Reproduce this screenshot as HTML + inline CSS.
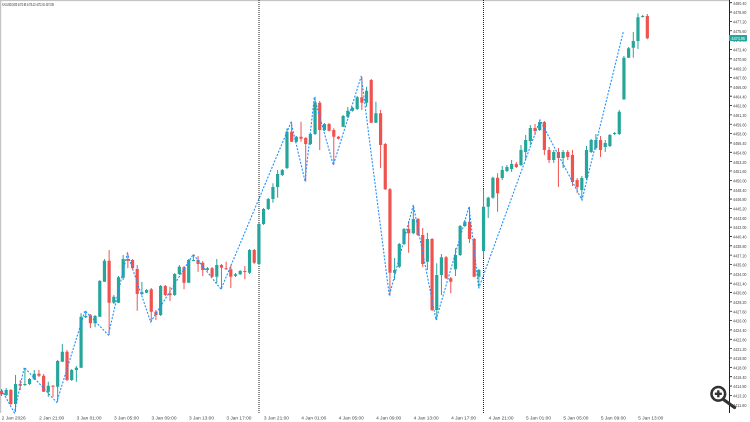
<!DOCTYPE html>
<html><head><meta charset="utf-8"><style>
html,body{margin:0;padding:0;background:#fff;}
svg{display:block;}
text{font-family:"Liberation Sans",sans-serif;}
</style></head><body>
<svg width="750" height="422" viewBox="0 0 750 422" xmlns="http://www.w3.org/2000/svg">
<rect x="0" y="0" width="750" height="422" fill="#fff"/>
<!-- frame -->
<line x1="0" y1="0.5" x2="729" y2="0.5" stroke="#c4c4c4" stroke-width="1.2"/>
<line x1="0.6" y1="0" x2="0.6" y2="413" stroke="#c4c4c4" stroke-width="1.2"/>
<text x="2" y="6" font-size="4.6" fill="#333" textLength="52" lengthAdjust="spacingAndGlyphs">XAUUSD,M30  4474.95 4476.10 4472.40 4474.95</text>
<!-- day separators -->
<line x1="259" y1="0" x2="259" y2="414" stroke="#222" stroke-width="1" stroke-dasharray="1,1"/>
<line x1="483.5" y1="0" x2="483.5" y2="414" stroke="#222" stroke-width="1" stroke-dasharray="1,1"/>

<!-- green wicks -->
<path fill="none" stroke="#26a69a" stroke-width="1" d="M6.18 388V396M15.54 375V412M24.9 368V386M29.58 378V385M34.26 370V380M48.3 381.7V396.7M57.66 360V402M62.34 344V362M71.7 369V381M76.38 366V381.7M81.06 313.3V368M85.74 310.7V318M95.1 315V327.3M99.78 280V317M104.46 259V282M113.82 295V304M118.5 276V303M123.18 255V280M141.9 282V295M146.58 289V293M160.62 285V316M174.66 273V296M179.34 265V275M188.7 259V283M193.38 254.3V261M207.42 267V271M216.78 259V283.3M235.5 273V277M240.18 270V275M249.54 249V274M258.9 223V265M263.58 208V225M268.26 198V210M272.94 183.3V202.7M277.62 170V197.7M282.3 169V176M286.98 128.3V169M296.34 136V142.5M310.38 133V145M315.06 96.7V135M324.42 123V131M343.14 115V127M347.82 107V118M352.5 107V111.5M357.18 96V110M366.54 86.7V106.7M375.9 101.7V123M394.62 258V280M399.3 243V268M403.98 228V245M413.34 205V234M427.38 232.7V270M436.74 263.3V320M441.42 254V295M455.46 248.3V276M460.14 225V256M464.82 220V227M478.86 269V288.3M483.54 189V258M488.22 196.7V218M492.9 176.7V198.7M502.26 166V180M506.94 165V172M511.62 160V172M520.98 145V166M525.66 135V160M530.34 125V145M539.7 120V131M553.74 150V163M563.1 150V168M581.82 176V200M586.5 146V180M591.18 139V153M595.86 134V150M605.22 140V152M609.9 134V147M614.58 132V135M619.26 110V135M623.94 56V100M628.62 47V58M633.3 32V57.7M637.98 13.3V49M642.66 15V17.5"/>
<!-- green bodies -->
<path fill="#26a69a" d="M4.58 390h3.2V395h-3.2zM13.94 384h3.2V404h-3.2zM23.3 384h3.2V385h-3.2zM27.98 379h3.2V384h-3.2zM32.66 373.7h3.2V379.3h-3.2zM46.7 385.7h3.2V391.7h-3.2zM56.06 361h3.2V386.7h-3.2zM60.74 351.7h3.2V361.7h-3.2zM70.1 370h3.2V380h-3.2zM74.78 367.7h3.2V370h-3.2zM79.46 316.7h3.2V367.7h-3.2zM84.14 316h3.2V317.3h-3.2zM93.5 316h3.2V323.3h-3.2zM98.18 281h3.2V316.7h-3.2zM102.86 260.7h3.2V281.7h-3.2zM112.22 296.7h3.2V302.7h-3.2zM116.9 277.3h3.2V302.7h-3.2zM121.58 259h3.2V277.7h-3.2zM140.3 292.3h3.2V294h-3.2zM144.98 290h3.2V292.7h-3.2zM159.02 286h3.2V315h-3.2zM173.06 274h3.2V295h-3.2zM177.74 266.7h3.2V274h-3.2zM187.1 260h3.2V282.7h-3.2zM191.78 260h3.2V261h-3.2zM205.82 268.3h3.2V270h-3.2zM215.18 265h3.2V276.7h-3.2zM233.9 274.3h3.2V276h-3.2zM238.58 271h3.2V274.3h-3.2zM247.94 250h3.2V272.7h-3.2zM257.3 224h3.2V264h-3.2zM261.98 209h3.2V224h-3.2zM266.66 199h3.2V209h-3.2zM271.34 187h3.2V199h-3.2zM276.02 174h3.2V187h-3.2zM280.7 170h3.2V175h-3.2zM285.38 131.7h3.2V168h-3.2zM294.74 136.7h3.2V141.7h-3.2zM308.78 134h3.2V144h-3.2zM313.46 102.7h3.2V134h-3.2zM322.82 124h3.2V130h-3.2zM341.54 116h3.2V126.7h-3.2zM346.22 110.7h3.2V116.7h-3.2zM350.9 107.7h3.2V110.7h-3.2zM355.58 97.3h3.2V109h-3.2zM364.94 90.7h3.2V102.7h-3.2zM374.3 113.3h3.2V122.7h-3.2zM393.02 270h3.2V272.7h-3.2zM397.7 244h3.2V266.7h-3.2zM402.38 229h3.2V244h-3.2zM411.74 219h3.2V233.3h-3.2zM425.78 239h3.2V261.7h-3.2zM435.14 275h3.2V310h-3.2zM439.82 257.3h3.2V275h-3.2zM453.86 255h3.2V269.3h-3.2zM458.54 226h3.2V255h-3.2zM463.22 221.7h3.2V226h-3.2zM477.26 270h3.2V276.7h-3.2zM481.94 206.7h3.2V251h-3.2zM486.62 197.7h3.2V206.7h-3.2zM491.3 177.7h3.2V197.7h-3.2zM500.66 170h3.2V178h-3.2zM505.34 167h3.2V171h-3.2zM510.02 164h3.2V169h-3.2zM519.38 150h3.2V165h-3.2zM524.06 140h3.2V152h-3.2zM528.74 128h3.2V141h-3.2zM538.1 122h3.2V130h-3.2zM552.14 152h3.2V160h-3.2zM561.5 152h3.2V158h-3.2zM580.22 178h3.2V190h-3.2zM584.9 150h3.2V178h-3.2zM589.58 140h3.2V152h-3.2zM594.26 140h3.2V148h-3.2zM603.62 143h3.2V147h-3.2zM608.3 135h3.2V146h-3.2zM612.98 133h3.2V134h-3.2zM617.66 111.7h3.2V134h-3.2zM622.34 57.7h3.2V99.3h-3.2zM627.02 48.3h3.2V57.7h-3.2zM631.7 41h3.2V47.7h-3.2zM636.38 17.3h3.2V41h-3.2zM641.06 16h3.2V17h-3.2z"/>

<!-- red wicks -->
<path fill="none" stroke="#ef5350" stroke-width="1" d="M1.5 389V396M10.86 389V405M20.22 380V390M38.94 370V377M43.62 374V392M52.98 385V396.7M67.02 350V381M90.42 314V328M109.14 250V335M127.86 253.3V268.3M132.54 259V269M137.22 265V310.7M151.26 288V322M155.94 310V320M165.3 285V296M169.98 286.7V301M184.02 266V289.3M198.06 256V271.7M202.74 261V276M212.1 267V277M221.46 264V289.3M226.14 261.7V270M230.82 265V288M244.86 266V279.3M254.22 249V264M291.66 122.3V142M301.02 121.7V141.7M305.7 137V181.7M319.74 101V150M329.1 123V131.5M333.78 128.3V165M338.46 136V139.5M361.86 76.7V110M371.22 79V123M380.58 110V168M385.26 143V190M389.94 188V295.7M408.66 221V252.7M418.02 218V236M422.7 228V267M432.06 238V311M446.1 256V279M450.78 277V293.3M469.5 206.7V243M474.18 238V277M497.58 173.3V211.7M516.3 162V168M535.02 124V135M544.38 121V155M549.06 147V163M558.42 148V187M567.78 150V160M572.46 150V186M577.14 178V193M600.54 136V157M647.34 14V39.3"/>
<!-- red bodies -->
<path fill="#ef5350" d="M0 391h3.1V394.3h-3.1zM9.26 390h3.2V404h-3.2zM18.62 384h3.2V385.7h-3.2zM37.34 373.7h3.2V375.7h-3.2zM42.02 375.7h3.2V391.7h-3.2zM51.38 385.7h3.2V386.7h-3.2zM65.42 351.7h3.2V380h-3.2zM88.82 315.3h3.2V323.3h-3.2zM107.54 260.7h3.2V302.7h-3.2zM126.26 259h3.2V260.7h-3.2zM130.94 260h3.2V268.3h-3.2zM135.62 269h3.2V294h-3.2zM149.66 289.3h3.2V311.7h-3.2zM154.34 311.7h3.2V315h-3.2zM163.7 286h3.2V295h-3.2zM168.38 293.3h3.2V295.3h-3.2zM182.42 267.3h3.2V282.7h-3.2zM196.46 260h3.2V264h-3.2zM201.14 262.7h3.2V270h-3.2zM210.5 268.3h3.2V276.7h-3.2zM219.86 265h3.2V267.7h-3.2zM224.54 268.3h3.2V269.3h-3.2zM229.22 269.3h3.2V276.7h-3.2zM243.26 271h3.2V272h-3.2zM252.62 250h3.2V262.7h-3.2zM290.06 131.7h3.2V141.7h-3.2zM299.42 136.7h3.2V138.7h-3.2zM304.1 138h3.2V144h-3.2zM318.14 102.7h3.2V130h-3.2zM327.5 124h3.2V130.7h-3.2zM332.18 130h3.2V136.7h-3.2zM336.86 136.7h3.2V138.7h-3.2zM360.26 97.3h3.2V102.7h-3.2zM369.62 80h3.2V122.7h-3.2zM378.98 113.3h3.2V145h-3.2zM383.66 144h3.2V189.3h-3.2zM388.34 189.3h3.2V272.7h-3.2zM407.06 229h3.2V233.3h-3.2zM416.42 219h3.2V235h-3.2zM421.1 235h3.2V264h-3.2zM430.46 239h3.2V310h-3.2zM444.5 257.3h3.2V278.3h-3.2zM449.18 278.3h3.2V281.7h-3.2zM467.9 221.7h3.2V239h-3.2zM472.58 239h3.2V276.7h-3.2zM495.98 177.7h3.2V193.3h-3.2zM514.7 164h3.2V167h-3.2zM533.42 128h3.2V131h-3.2zM542.78 122h3.2V150h-3.2zM547.46 150h3.2V160h-3.2zM556.82 152h3.2V158h-3.2zM566.18 152h3.2V157h-3.2zM570.86 155h3.2V182h-3.2zM575.54 180h3.2V187h-3.2zM598.94 140h3.2V150h-3.2zM645.74 16h3.2V38.3h-3.2z"/>

<!-- zigzag -->
<polyline fill="none" stroke="#1e90ff" stroke-width="1.1" stroke-dasharray="2,1.5" points="1.7,390 14.3,412.7 24.3,367.3 56.7,402.3 85,310.7 108.3,335 127.3,253.3 150.7,322 193.3,254.3 221,289.3 291,122.3 305,181 314.3,97.3 333.3,165 361.3,76 389.3,295.7 413.3,205 436,320 469,206.7 478.7,288.3 540,120 582,200 623.3,31.7"/>

<!-- right price axis -->
<line x1="729.5" y1="0" x2="729.5" y2="413" stroke="#222" stroke-width="1"/>
<g stroke="#222" stroke-width="0.8">
<path d="M729 2.7h3M729 12.05h3M729 21.4h3M729 30.75h3M729 40.1h3M729 49.45h3M729 58.8h3M729 68.15h3M729 77.5h3M729 86.85h3M729 96.2h3M729 105.55h3M729 114.9h3M729 124.25h3M729 133.6h3M729 142.95h3M729 152.3h3M729 161.65h3M729 171h3M729 180.35h3M729 189.7h3M729 199.05h3M729 208.4h3M729 217.75h3M729 227.1h3M729 236.45h3M729 245.8h3M729 255.15h3M729 264.5h3M729 273.85h3M729 283.2h3M729 292.55h3M729 301.9h3M729 311.25h3M729 320.6h3M729 329.95h3M729 339.3h3M729 348.65h3M729 358h3M729 367.35h3M729 376.7h3M729 386.05h3M729 395.4h3M729 404.75h3"/>
</g>
<g font-size="4.6" fill="#444">
<text x="733" y="4.8" textLength="13.5" lengthAdjust="spacingAndGlyphs">4480.40</text>
<text x="733" y="14.15" textLength="13.5" lengthAdjust="spacingAndGlyphs">4478.80</text>
<text x="733" y="23.5" textLength="13.5" lengthAdjust="spacingAndGlyphs">4477.20</text>
<text x="733" y="32.85" textLength="13.5" lengthAdjust="spacingAndGlyphs">4475.60</text>
<text x="733" y="42.2" textLength="13.5" lengthAdjust="spacingAndGlyphs">4474.00</text>
<text x="733" y="51.55" textLength="13.5" lengthAdjust="spacingAndGlyphs">4472.40</text>
<text x="733" y="60.9" textLength="13.5" lengthAdjust="spacingAndGlyphs">4470.80</text>
<text x="733" y="70.25" textLength="13.5" lengthAdjust="spacingAndGlyphs">4469.20</text>
<text x="733" y="79.6" textLength="13.5" lengthAdjust="spacingAndGlyphs">4467.60</text>
<text x="733" y="88.95" textLength="13.5" lengthAdjust="spacingAndGlyphs">4466.00</text>
<text x="733" y="98.3" textLength="13.5" lengthAdjust="spacingAndGlyphs">4464.40</text>
<text x="733" y="107.65" textLength="13.5" lengthAdjust="spacingAndGlyphs">4462.80</text>
<text x="733" y="117" textLength="13.5" lengthAdjust="spacingAndGlyphs">4461.20</text>
<text x="733" y="126.35" textLength="13.5" lengthAdjust="spacingAndGlyphs">4459.60</text>
<text x="733" y="135.7" textLength="13.5" lengthAdjust="spacingAndGlyphs">4458.00</text>
<text x="733" y="145.05" textLength="13.5" lengthAdjust="spacingAndGlyphs">4456.40</text>
<text x="733" y="154.4" textLength="13.5" lengthAdjust="spacingAndGlyphs">4454.80</text>
<text x="733" y="163.75" textLength="13.5" lengthAdjust="spacingAndGlyphs">4453.20</text>
<text x="733" y="173.1" textLength="13.5" lengthAdjust="spacingAndGlyphs">4451.60</text>
<text x="733" y="182.45" textLength="13.5" lengthAdjust="spacingAndGlyphs">4450.00</text>
<text x="733" y="191.8" textLength="13.5" lengthAdjust="spacingAndGlyphs">4448.40</text>
<text x="733" y="201.15" textLength="13.5" lengthAdjust="spacingAndGlyphs">4446.80</text>
<text x="733" y="210.5" textLength="13.5" lengthAdjust="spacingAndGlyphs">4445.20</text>
<text x="733" y="219.85" textLength="13.5" lengthAdjust="spacingAndGlyphs">4443.60</text>
<text x="733" y="229.2" textLength="13.5" lengthAdjust="spacingAndGlyphs">4442.00</text>
<text x="733" y="238.55" textLength="13.5" lengthAdjust="spacingAndGlyphs">4440.40</text>
<text x="733" y="247.9" textLength="13.5" lengthAdjust="spacingAndGlyphs">4438.80</text>
<text x="733" y="257.25" textLength="13.5" lengthAdjust="spacingAndGlyphs">4437.20</text>
<text x="733" y="266.6" textLength="13.5" lengthAdjust="spacingAndGlyphs">4435.60</text>
<text x="733" y="275.95" textLength="13.5" lengthAdjust="spacingAndGlyphs">4434.00</text>
<text x="733" y="285.3" textLength="13.5" lengthAdjust="spacingAndGlyphs">4432.40</text>
<text x="733" y="294.65" textLength="13.5" lengthAdjust="spacingAndGlyphs">4430.80</text>
<text x="733" y="304" textLength="13.5" lengthAdjust="spacingAndGlyphs">4429.20</text>
<text x="733" y="313.35" textLength="13.5" lengthAdjust="spacingAndGlyphs">4427.60</text>
<text x="733" y="322.7" textLength="13.5" lengthAdjust="spacingAndGlyphs">4426.00</text>
<text x="733" y="332.05" textLength="13.5" lengthAdjust="spacingAndGlyphs">4424.40</text>
<text x="733" y="341.4" textLength="13.5" lengthAdjust="spacingAndGlyphs">4422.80</text>
<text x="733" y="350.75" textLength="13.5" lengthAdjust="spacingAndGlyphs">4421.20</text>
<text x="733" y="360.1" textLength="13.5" lengthAdjust="spacingAndGlyphs">4419.60</text>
<text x="733" y="369.45" textLength="13.5" lengthAdjust="spacingAndGlyphs">4418.00</text>
<text x="733" y="378.8" textLength="13.5" lengthAdjust="spacingAndGlyphs">4416.40</text>
<text x="733" y="388.15" textLength="13.5" lengthAdjust="spacingAndGlyphs">4414.80</text>
<text x="733" y="397.5" textLength="13.5" lengthAdjust="spacingAndGlyphs">4413.20</text>
<text x="733" y="406.85" textLength="13.5" lengthAdjust="spacingAndGlyphs">4411.60</text>
</g>
<!-- current price -->
<rect x="729" y="35" width="18" height="6" fill="#26a69a"/>
<text x="731.5" y="39.9" font-size="4.6" fill="#fff" textLength="13.5" lengthAdjust="spacingAndGlyphs">4474.95</text>

<!-- time axis labels -->
<g font-size="4.6" fill="#444">
<text x="1.7" y="419.5" textLength="24" lengthAdjust="spacingAndGlyphs">2 Jan 2026</text>
<text x="39.2" y="419.5" textLength="25" lengthAdjust="spacingAndGlyphs">2 Jan 21:00</text>
<text x="76.6" y="419.5" textLength="25" lengthAdjust="spacingAndGlyphs">3 Jan 01:00</text>
<text x="114" y="419.5" textLength="25" lengthAdjust="spacingAndGlyphs">3 Jan 05:00</text>
<text x="151.5" y="419.5" textLength="25" lengthAdjust="spacingAndGlyphs">3 Jan 09:00</text>
<text x="189" y="419.5" textLength="25" lengthAdjust="spacingAndGlyphs">3 Jan 13:00</text>
<text x="226.4" y="419.5" textLength="25" lengthAdjust="spacingAndGlyphs">3 Jan 17:00</text>
<text x="263.9" y="419.5" textLength="25" lengthAdjust="spacingAndGlyphs">3 Jan 21:00</text>
<text x="301.3" y="419.5" textLength="25" lengthAdjust="spacingAndGlyphs">4 Jan 01:00</text>
<text x="338.8" y="419.5" textLength="25" lengthAdjust="spacingAndGlyphs">4 Jan 05:00</text>
<text x="376.2" y="419.5" textLength="25" lengthAdjust="spacingAndGlyphs">4 Jan 09:00</text>
<text x="413.7" y="419.5" textLength="25" lengthAdjust="spacingAndGlyphs">4 Jan 13:00</text>
<text x="451.1" y="419.5" textLength="25" lengthAdjust="spacingAndGlyphs">4 Jan 17:00</text>
<text x="488.6" y="419.5" textLength="25" lengthAdjust="spacingAndGlyphs">4 Jan 21:00</text>
<text x="526" y="419.5" textLength="25" lengthAdjust="spacingAndGlyphs">5 Jan 01:00</text>
<text x="563.4" y="419.5" textLength="25" lengthAdjust="spacingAndGlyphs">5 Jan 05:00</text>
<text x="600.9" y="419.5" textLength="25" lengthAdjust="spacingAndGlyphs">5 Jan 09:00</text>
<text x="638.3" y="419.5" textLength="25" lengthAdjust="spacingAndGlyphs">5 Jan 13:00</text>
</g>

<!-- zoom (magnifier) icon -->
<g>
<line x1="723.5" y1="399.5" x2="734.5" y2="407.5" stroke="#333" stroke-width="3.2" stroke-linecap="round"/>
<circle cx="718.3" cy="393.8" r="6.8" fill="#fff" stroke="#333" stroke-width="2.6"/>
<rect x="714.8" y="392.6" width="7" height="2.4" fill="#333"/>
<rect x="717.1" y="390.3" width="2.4" height="7" fill="#333"/>
</g>
</svg>
</body></html>
